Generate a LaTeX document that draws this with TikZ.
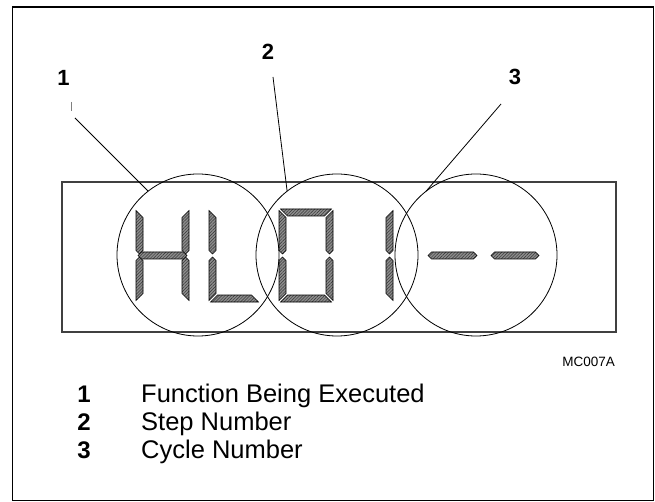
\documentclass[tikz,border=0pt]{standalone}
\usepackage{fontspec}
\setmainfont{Liberation Sans}
\usetikzlibrary{patterns.meta}
\tikzset{
  segm/.style={draw=black, line width=0.6pt, preaction={fill=black!45},
    pattern={Lines[angle=45,distance=2.2pt,line width=0.45pt]}, pattern color=black!80},
  ring/.style={draw=black, line width=0.8pt, circle, minimum size=162pt, inner sep=0pt, outer sep=0pt},
  leader/.style={draw=black, line width=0.8pt},
  callout/.style={font=\fontsize{22}{24}\selectfont\bfseries, inner sep=0pt},
  legnum/.style={font=\fontsize{24}{26}\selectfont\bfseries, inner sep=0pt, anchor=base},
  legtext/.style={font=\fontsize{25.5}{28}\selectfont, inner sep=0pt, anchor=base west},
}
\newcommand{\sgTop}[2]{\path[segm] ({#1+1.5},209) -- ({#2-1.5},209) -- ({#2-8.5},216) -- ({#1+8.5},216) -- cycle;}
\newcommand{\sgBot}[2]{\path[segm] ({#1+1.5},302) -- ({#2-1.5},302) -- ({#2-8.5},295) -- ({#1+8.5},295) -- cycle;}
\newcommand{\sgUL}[1]{\path[segm] (#1,210.5) -- ({#1+7},217.5) -- ({#1+7},250.5) -- ({#1+3.5},254) -- (#1,250.5) -- cycle;}
\newcommand{\sgLL}[1]{\path[segm] (#1,300.5) -- ({#1+7},293.5) -- ({#1+7},260.5) -- ({#1+3.5},257) -- (#1,260.5) -- cycle;}
\newcommand{\sgUR}[1]{\path[segm] (#1,210.5) -- ({#1-7},217.5) -- ({#1-7},250.5) -- ({#1-3.5},254) -- (#1,250.5) -- cycle;}
\newcommand{\sgLR}[1]{\path[segm] (#1,300.5) -- ({#1-7},293.5) -- ({#1-7},260.5) -- ({#1-3.5},257) -- (#1,260.5) -- cycle;}
\newcommand{\sgMid}[2]{\path[segm] (#1,255.5) -- ({#1+3.5},252) -- ({#2-3.5},252) -- (#2,255.5) -- ({#2-3.5},259) -- ({#1+3.5},259) -- cycle;}
\begin{document}
\begin{tikzpicture}[x=1pt,y=-1pt]
\useasboundingbox (0,0) rectangle (655,502);
% outer frame
\draw[line width=1.8pt] (12.5,7) rectangle (653.5,500.5);
% display window
\draw[draw=black!75, line width=1.1pt] (62,182) rectangle (616,332);
% H
\sgUL{136}\sgLL{136}\sgUR{189}\sgLR{189}\sgMid{138}{187}
% L
\sgUL{209}\sgLL{209}\sgBot{209}{260}
% 0
\sgTop{279}{333}\sgBot{279}{333}\sgUL{279}\sgLL{279}\sgUR{333}\sgLR{333}
% 1
\sgUR{393}\sgLR{393}
% dashes
\sgMid{428}{477}
\sgMid{491}{539}
% rings
\node[ring] (c1) at (198,255) {};
\node[ring] (c2) at (337,255) {};
\node[ring] (c3) at (476,255) {};
% callouts
\node[callout] (n1) at (63.5,78) {1};
\node[callout] (n2) at (268,52) {2};
\node[callout] (n3) at (515,77) {3};
\draw[draw=black!50, line width=0.8pt] (71,102) -- (71,111);
\coordinate (s1) at (75,118);
\coordinate (s2) at (273,77);
\coordinate (s3) at (501,104);
\draw[leader] (s1) -- (c1.128);
\draw[leader] (s2) -- (c2.128);
\draw[leader] (s3) -- (c3.128);
% figure id
\node[font=\fontsize{13.5}{15}\selectfont, inner sep=0pt, anchor=east] (id) at (615,362) {MC007A};
% legend
\node[legnum] (k1) at (84,402) {1};
\node[legnum] (k2) at (84,430) {2};
\node[legnum] (k3) at (84,458) {3};
\node[legtext] (t1) at (141,402) {Function Being Executed};
\node[legtext] (t2) at (141,430) {Step Number};
\node[legtext] (t3) at (141,458) {Cycle Number};
\end{tikzpicture}
\end{document}
